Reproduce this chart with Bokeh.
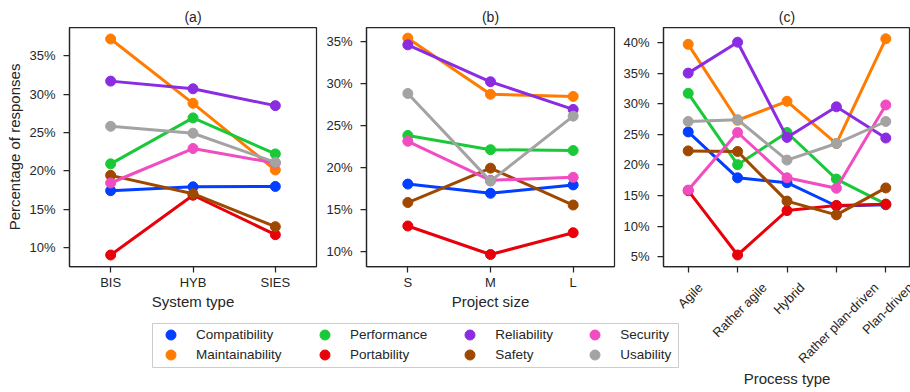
import math
from bokeh.plotting import figure
from bokeh.models import (FactorRange, Range1d, SingleIntervalTicker, PrintfTickFormatter,
                          Legend, LegendItem, LabelSet, ColumnDataSource)
from bokeh.core.properties import value
from bokeh.layouts import row, column
from bokeh.embed import file_html
from bokeh.resources import INLINE

# ---------------- data ----------------
qualities = ["Compatibility", "Maintainability", "Performance", "Portability",
             "Reliability", "Safety", "Security", "Usability"]
colors = ["#023eff", "#ff7c00", "#1ac938", "#e8000b",
          "#8b2be2", "#9f4800", "#f14cc1", "#a3a3a3"]

system_types = ["BIS", "HYB", "SIES"]
system_compat = [17.4, 17.9, 17.95]
system_maint = [37.2, 28.8, 20.1]
system_perf = [20.9, 26.9, 22.2]
system_port = [9.0, 16.8, 11.65]
system_rel = [31.7, 30.7, 28.5]
system_safety = [19.4, 17.0, 12.7]
system_sec = [18.4, 22.9, 21.0]
system_usab = [25.8, 24.9, 21.1]

project_sizes = ["S", "M", "L"]
size_compat = [18.0, 16.9, 17.9]
size_maint = [35.4, 28.7, 28.45]
size_perf = [23.8, 22.1, 22.0]
size_port = [13.0, 9.6, 12.2]
size_rel = [34.6, 30.2, 26.9]
size_safety = [15.8, 19.9, 15.5]
size_sec = [23.1, 18.45, 18.8]
size_usab = [28.8, 18.35, 26.1]

process_types = ["Agile", "Rather agile", "Hybrid", "Rather plan-driven", "Plan-driven"]
proc_compat = [25.4, 17.9, 17.1, 13.3, 13.5]
proc_maint = [39.7, 27.3, 30.4, 23.5, 40.6]
proc_perf = [31.7, 20.05, 25.3, 17.7, 13.6]
proc_port = [15.8, 5.3, 12.55, 13.4, 13.6]
proc_rel = [35.0, 40.05, 24.5, 29.5, 24.4]
proc_safety = [22.3, 22.2, 14.1, 11.85, 16.25]
proc_sec = [15.9, 25.3, 17.9, 16.2, 29.8]
proc_usab = [27.1, 27.4, 20.8, 23.5, 27.1]

system_series = [system_compat, system_maint, system_perf, system_port,
                 system_rel, system_safety, system_sec, system_usab]
size_series = [size_compat, size_maint, size_perf, size_port,
               size_rel, size_safety, size_sec, size_usab]
proc_series = [proc_compat, proc_maint, proc_perf, proc_port,
               proc_rel, proc_safety, proc_sec, proc_usab]

# ---------------- style ----------------
FONT = "Liberation Sans"
TXT = "#262626"
TOP = 27
FRAME_H = 239
BOTTOM = 126


def make_panel(title, factors, series, yr, frame_w, left, right, xlabel, ylabel=None):
    p = figure(x_range=FactorRange(*factors), y_range=Range1d(*yr),
               frame_width=frame_w, frame_height=FRAME_H,
               min_border_left=left, min_border_right=right,
               min_border_top=TOP, min_border_bottom=BOTTOM,
               output_backend="svg", toolbar_location=None, title=title)
    p.title.align = "center"
    p.title.text_font = FONT
    p.title.text_font_size = "14px"
    p.title.text_font_style = "normal"
    p.title.text_color = TXT
    p.title.standoff = 6
    p.background_fill_color = "white"
    p.border_fill_color = "white"
    p.outline_line_color = TXT
    p.outline_line_width = 1.25
    p.outline_line_alpha = 1.0
    p.xgrid.visible = False
    p.ygrid.visible = False
    for ax in (p.xaxis[0], p.yaxis[0]):
        ax.axis_line_color = TXT
        ax.axis_line_width = 1.25
        ax.major_tick_line_color = TXT
        ax.major_tick_line_width = 1.25
        ax.major_tick_out = 6
        ax.major_tick_in = 0
        ax.minor_tick_line_color = None
        ax.major_label_text_font = FONT
        ax.major_label_text_font_size = "13px"
        ax.major_label_text_color = TXT
        ax.axis_label_text_font = FONT
        ax.axis_label_text_font_size = "15px"
        ax.axis_label_text_font_style = "normal"
        ax.axis_label_text_color = TXT
    p.xaxis.major_label_standoff = 2
    p.xaxis.axis_label_standoff = 0
    p.yaxis.major_label_standoff = 8
    p.yaxis.axis_label_standoff = 3
    p.yaxis.ticker = SingleIntervalTicker(interval=5, num_minor_ticks=0)
    p.yaxis.formatter = PrintfTickFormatter(format="%d%%")
    p.xaxis.axis_label = xlabel
    if ylabel:
        p.yaxis.axis_label = ylabel
    for vals, c in zip(series, colors):
        p.line(x=factors, y=vals, line_color=c, line_width=3)
        p.scatter(x=factors, y=vals, size=10, fill_color=c, line_color=c)
    return p


fa = make_panel("(a)", system_types, system_series, (7.5, 38.7), 247, 69, 2,
                "System type", "Percentage of responses")
fb = make_panel("(b)", project_sizes, size_series, (8.17, 36.67), 248, 48, 2,
                "Project size")
fc = make_panel("(c)", process_types, proc_series, (3.42, 42.45), 247, 47, 0,
                "Process type")

# panel (c): tick labels are drawn rotated & centred in an overlay below the frame
fc.xaxis.major_label_text_color = None
fc.xaxis.axis_label_standoff = 97

OVL_H = BOTTOM
ovl = figure(frame_width=247, frame_height=OVL_H, x_range=fc.x_range, y_range=Range1d(0, 1),
             min_border_left=0, min_border_right=0, min_border_top=0, min_border_bottom=0,
             x_axis_location=None, y_axis_location=None,
             output_backend="svg", toolbar_location=None)
ovl.grid.visible = False
ovl.background_fill_color = None
ovl.border_fill_color = None
ovl.outline_line_color = None

char_w = {"A": 667, "g": 556, "i": 222, "l": 222, "e": 556, "R": 722, "a": 556,
          "t": 278, "h": 556, "r": 333, " ": 278, "H": 722, "y": 500, "b": 556,
          "d": 556, "p": 556, "n": 556, "-": 333, "v": 500, "P": 667}


def text_w(s, size):
    return sum(char_w.get(ch, 556) for ch in s) * size / 1000.0


lab_y = [OVL_H - (13.5 + (text_w(s, 13) + 15) * 0.3536) for s in process_types]
lab_src = ColumnDataSource(dict(x=process_types, y=lab_y, text=process_types))
ovl.add_layout(LabelSet(x="x", y="y", y_units="screen", text="text", source=lab_src,
                        angle=math.pi / 4, text_align="center", text_baseline="middle",
                        text_font=value(FONT), text_font_size="13px", text_color=TXT))
ovl.margin = (-OVL_H, 0, 0, 663)

# ---------------- legend ----------------
LEG_W, LEG_H = 526, 44
leg = figure(frame_width=LEG_W, frame_height=LEG_H, x_range=Range1d(0, 1), y_range=Range1d(0, 1),
             min_border_left=2, min_border_right=2, min_border_top=2, min_border_bottom=2,
             x_axis_location=None, y_axis_location=None,
             output_backend="svg", toolbar_location=None)
leg.grid.visible = False
leg.background_fill_color = "white"
leg.border_fill_color = None
leg.outline_line_color = "#cccccc"
leg.outline_line_width = 1

nan = float("nan")
dummies = [leg.scatter(x=[nan], y=[nan], size=10, fill_color=c, line_color=c) for c in colors]
col_x = [6.0, 160.0, 305.3, 430.2]
row_y = [20.2, 0.0]
for i, q in enumerate(qualities):
    lg = Legend(items=[LegendItem(label=q, renderers=[dummies[i]])],
                location=(col_x[i // 2], row_y[i % 2]), orientation="vertical",
                glyph_width=25, glyph_height=25, label_height=16, label_width=10,
                label_standoff=13, spacing=0, padding=0, margin=0,
                border_line_color=None, background_fill_alpha=0,
                label_text_font=FONT, label_text_font_size="13.5px", label_text_color=TXT)
    leg.add_layout(lg, "center")

leg.margin = (321 - (OVL_H + 266), 0, 0, 150)

layout = column(row(fa, fb, fc), ovl, leg)

open("out.html", "w").write(file_html(layout, INLINE))
